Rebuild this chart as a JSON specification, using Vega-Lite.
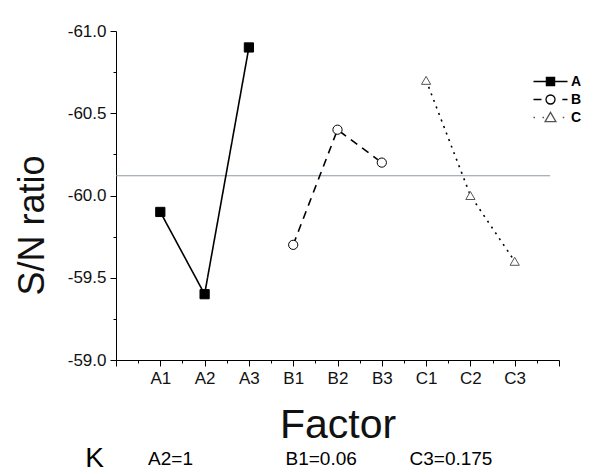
{
  "$schema": "https://vega.github.io/schema/vega-lite/v6.json",
  "width": 443,
  "height": 329,
  "autosize": "none",
  "padding": {"left": 116, "top": 31, "right": 41, "bottom": 114},
  "background": "white",
  "config": {
    "font": "Liberation Sans",
    "view": {"stroke": null},
    "axis": {"labelFont": "Liberation Sans", "titleFont": "Liberation Sans", "grid": false, "domainColor": "black", "tickColor": "black", "labelColor": "#111", "titleColor": "#111"}
  },
  "data": {
    "values": [
      {"factor": "A1", "level": 1, "series": "A", "sn": -59.9},
      {"factor": "A2", "level": 2, "series": "A", "sn": -59.4},
      {"factor": "A3", "level": 3, "series": "A", "sn": -60.9},
      {"factor": "B1", "level": 4, "series": "B", "sn": -59.7},
      {"factor": "B2", "level": 5, "series": "B", "sn": -60.4},
      {"factor": "B3", "level": 6, "series": "B", "sn": -60.2},
      {"factor": "C1", "level": 7, "series": "C", "sn": -60.7},
      {"factor": "C2", "level": 8, "series": "C", "sn": -60.0},
      {"factor": "C3", "level": 9, "series": "C", "sn": -59.6}
    ]
  },
  "layer": [
    {
      "data": {"values": [{"mean": -60.12}]},
      "mark": {"type": "rule", "color": "#8c9aa3", "strokeWidth": 1},
      "encoding": {
        "x": {
          "datum": 0,
          "type": "quantitative",
          "scale": {"domain": [0, 10], "nice": false, "zero": false},
          "axis": {
            "orient": "bottom",
            "values": [0, 1.22, 4.62, 7.55],
            "labelExpr": "datum.value == 0 ? 'K' : datum.value < 2 ? 'A2=1' : datum.value < 5 ? 'B1=0.06' : 'C3=0.175'",
            "domain": false,
            "ticks": false,
            "tickSize": 0,
            "labelBaseline": "alphabetic",
            "labelPadding": {"condition": {"test": "datum.value == 0", "value": 106}, "value": 104},
            "labelOffset": {"condition": {"test": "datum.value == 0", "value": -22}, "value": 0},
            "labelFontSize": {"condition": {"test": "datum.value == 0", "value": 28}, "value": 19},
            "labelColor": "black",
            "labelOverlap": false,
            "labelFlush": false,
            "title": null
          }
        },
        "x2": {"datum": 9.8},
        "y": {
          "field": "mean",
          "type": "quantitative",
          "scale": {"domain": [-61, -59], "reverse": true, "nice": false, "zero": false},
          "axis": {
            "values": [-61, -60.75, -60.5, -60.25, -60, -59.75, -59.5, -59.25, -59],
            "labelExpr": "(datum.value * 2) % 1 == 0 ? '-' + format(abs(datum.value), '.1f') : ''",
            "tickSize": {"condition": {"test": "(datum.value * 2) % 1 == 0", "value": 6}, "value": 3},
            "labelFontSize": 17,
            "labelPadding": 4,
            "labelOverlap": false,
            "labelFlush": false,
            "title": "S/N ratio",
            "titleFontSize": 36,
            "titleFontWeight": "normal",
            "titleAngle": 270,
            "titleAlign": "center",
            "titleBaseline": "middle",
            "titleX": -84,
            "titleY": 194
          }
        }
      }
    },
    {
      "mark": {"type": "line", "color": "black", "strokeWidth": 1.6},
      "encoding": {
        "x": {
          "field": "level",
          "type": "quantitative",
          "axis": {
            "orient": "bottom",
            "values": [0, 0.5, 1, 1.5, 2, 2.5, 3, 3.5, 4, 4.5, 5, 5.5, 6, 6.5, 7, 7.5, 8, 8.5, 9, 9.5, 10],
            "labelExpr": "datum.value % 1 == 0 && datum.value >= 1 && datum.value <= 9 ? ['', 'A1', 'A2', 'A3', 'B1', 'B2', 'B3', 'C1', 'C2', 'C3'][datum.value] : ''",
            "tickSize": {"condition": {"test": "datum.value % 1 == 0", "value": 6}, "value": 3},
            "labelFontSize": 17,
            "labelPadding": 4,
            "labelOverlap": false,
            "labelFlush": false,
            "title": "Factor",
            "titleFontSize": 41,
            "titleFontWeight": "normal",
            "titlePadding": 19
          }
        },
        "y": {"field": "sn", "type": "quantitative"},
        "strokeDash": {
          "field": "series",
          "type": "nominal",
          "scale": {"domain": ["A", "B", "C"], "range": [[1, 0], [8, 6], [2, 5]]},
          "legend": null
        }
      }
    },
    {
      "mark": {"type": "point", "filled": true, "strokeWidth": 1, "opacity": 1, "size": 85},
      "encoding": {
        "x": {"field": "level", "type": "quantitative", "axis": null},
        "y": {"field": "sn", "type": "quantitative"},
        "shape": {"field": "series", "type": "nominal", "scale": {"domain": ["A", "B", "C"], "range": ["square", "circle", "triangle-up"]}, "legend": null},
        "fill": {"field": "series", "type": "nominal", "scale": {"domain": ["A", "B", "C"], "range": ["black", "white", "white"]}, "legend": null},
        "stroke": {"field": "series", "type": "nominal", "scale": {"domain": ["A", "B", "C"], "range": ["black", "black", "#555555"]}, "legend": null}
      }
    },
    {
      "transform": [{"filter": "false"}],
      "mark": {"type": "point", "filled": true, "strokeWidth": 1.3, "opacity": 1},
      "encoding": {
        "x": {"field": "level", "type": "quantitative", "axis": null},
        "y": {"field": "sn", "type": "quantitative"},
        "shape": {
          "field": "series",
          "type": "nominal",
          "scale": {
            "domain": ["A", "B", "C"],
            "range": [
              "M-1.79,0H1.79M-0.43,-0.43H0.43V0.43H-0.43Z",
              "M-1.79,0H-0.95M1.25,0H1.79M0.474,0A0.474,0.474,0,1,1,-0.474,0A0.474,0.474,0,1,1,0.474,0Z",
              "M-1.79,0H-1.63M-0.84,0H-0.68M1.29,0H1.45M0,-0.54L0.57,0.43L-0.57,0.43Z"
            ]
          },
          "legend": {
            "title": null,
            "orient": "none",
            "legendX": 424,
            "legendY": 40,
            "padding": 0,
            "symbolSize": 361,
            "symbolStrokeWidth": 1.3,
            "symbolOpacity": 1,
            "labelFont": "Liberation Sans",
            "labelFontSize": 14,
            "labelFontWeight": "bold",
            "labelColor": "black",
            "labelOffset": 10,
            "rowPadding": 0
          }
        },
        "fill": {
          "field": "series",
          "type": "nominal",
          "scale": {"domain": ["A", "B", "C"], "range": ["black", "white", "white"]},
          "legend": {
            "title": null,
            "orient": "none",
            "legendX": 424,
            "legendY": 40,
            "padding": 0,
            "symbolSize": 361,
            "symbolStrokeWidth": 1.3,
            "symbolOpacity": 1,
            "labelFont": "Liberation Sans",
            "labelFontSize": 14,
            "labelFontWeight": "bold",
            "labelColor": "black",
            "labelOffset": 10,
            "rowPadding": 0
          }
        },
        "stroke": {
          "field": "series",
          "type": "nominal",
          "scale": {"domain": ["A", "B", "C"], "range": ["black", "black", "#555555"]},
          "legend": {
            "title": null,
            "orient": "none",
            "legendX": 424,
            "legendY": 40,
            "padding": 0,
            "symbolSize": 361,
            "symbolStrokeWidth": 1.3,
            "symbolOpacity": 1,
            "labelFont": "Liberation Sans",
            "labelFontSize": 14,
            "labelFontWeight": "bold",
            "labelColor": "black",
            "labelOffset": 10,
            "rowPadding": 0
          }
        }
      }
    }
  ],
  "resolve": {
    "axis": {"x": "independent"},
    "scale": {"shape": "independent", "fill": "independent", "stroke": "independent"}
  }
}
